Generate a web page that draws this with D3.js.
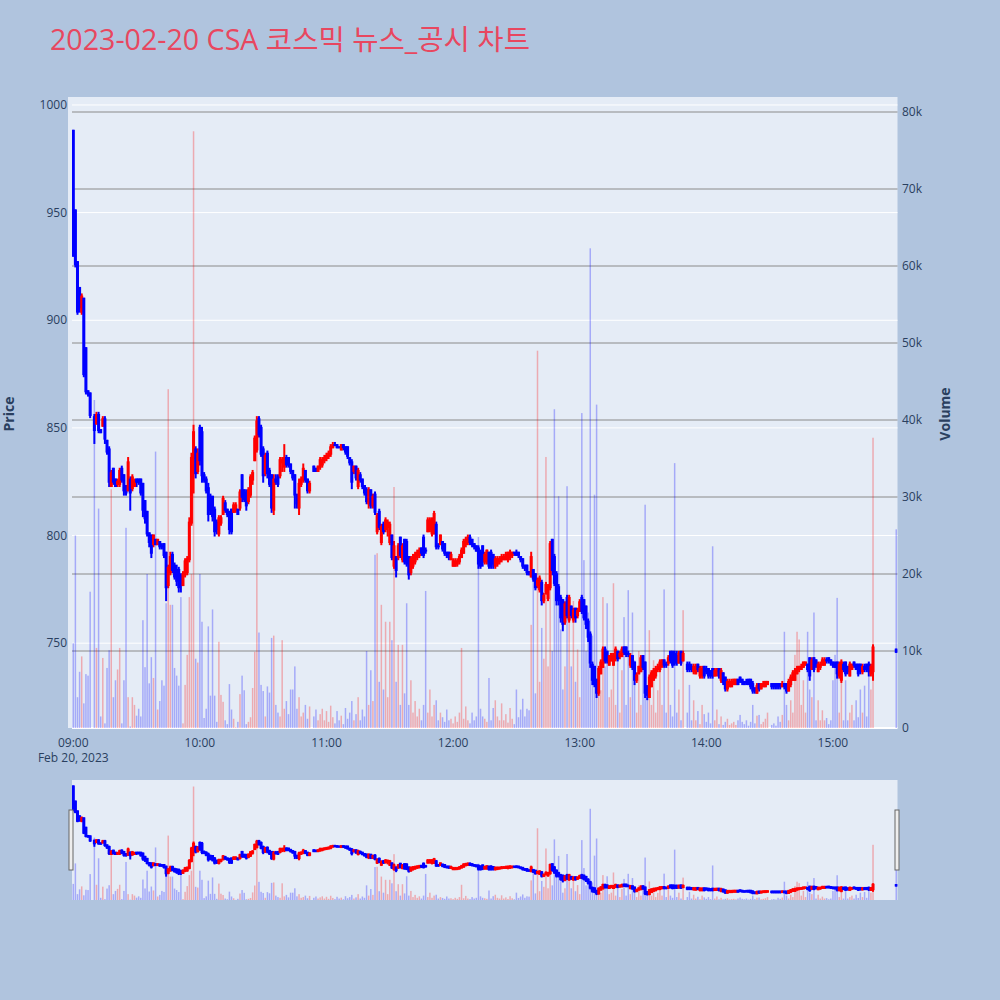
<!DOCTYPE html>
<html><head><meta charset="utf-8">
<script src="https://cdn.jsdelivr.net/npm/d3@7"></script>
<style>body{margin:0;background:#b0c4de;} svg{display:block;font-family:"Open Sans","Noto Sans CJK KR",sans-serif;}</style>
</head><body><svg id="c" width="1000" height="1000"></svg>
<script>
const chartTitle = "2023-02-20 CSA 코스믹 뉴스_공시 차트";
const priceTicks = [750, 800, 850, 900, 950, 1000];
const volTicks = [0, 10, 20, 30, 40, 50, 60, 70, 80];
const timeTicks = ["09:00","10:00","11:00","12:00","13:00","14:00","15:00"];
const dateLabel = "Feb 20, 2023";
const N = null;
// one entry per minute from 09:00 to 15:30
const openP = [
988,951,927,915,904,910,887,867,866,N,
855,852,856,849,851,854,844,840,823,831,
826,824,824,831,828,823,821,826,822,823,
826,826,826,824,816,811,801,800,796,798,
796,797,795,796,792,777,783,791,786,784,
784,781,777,782,783,789,806,836,840,830,
850,848,828,826,822,818,818,812,806,801,
806,810,815,812,811,812,811,812,812,813,
828,821,820,816,819,826,835,840,854,850,
840,829,838,830,828,812,826,827,828,834,
832,836,836,833,830,828,818,813,824,826,
830,826,821,N,832,831,830,832,833,835,
836,837,838,841,842,842,841,840,842,841,
841,836,834,830,832,823,828,826,823,821,
815,821,814,819,802,811,797,805,803,804,
797,800,786,790,790,799,789,798,797,790,
783,786,788,790,791,794,799,793,802,803,
801,801,805,795,796,797,796,792,792,789,
786,786,787,788,790,792,796,797,799,798,
796,795,794,792,795,788,788,792,792,791,
786,787,788,789,789,789,789,790,791,792,
792,792,790,789,786,786,783,781,784,782,
777,775,778,770,774,771,776,798,790,782,
776,771,770,760,771,761,767,761,766,763,
765,771,770,767,760,754,740,739,733,727,
736,739,747,746,740,742,740,743,746,744,
744,748,748,745,740,744,741,733,736,737,
744,741,730,725,730,733,735,738,738,740,
742,740,741,746,746,745,744,741,746,742,
N,740,740,739,737,736,740,735,735,739,
738,738,737,738,735,737,738,733,736,734,
729,730,730,731,731,733,734,733,732,732,
733,733,731,729,727,731,729,730,730,731,
N,731,731,731,731,731,730,731,731,728,
731,733,733,736,738,738,739,740,740,743,
738,743,742,737,739,740,740,742,743,742,
741,740,741,735,733,740,741,739,735,738,
741,740,740,740,737,739,740,740,736,737,
N,N,N,N,N,N,N,N,N,N,
747];
const highP = [
988,951,927,915,912,910,887,867,866,N,
856,857,857,849,855,855,844,841,830,831,
826,826,831,832,828,823,836,827,828,826,
826,826,826,824,816,811,801,800,800,798,
798,797,796,796,792,786,792,792,787,786,
785,782,783,789,790,808,838,851,841,840,
851,850,829,827,824,819,818,813,807,809,
809,818,816,812,811,812,815,815,812,821,
828,821,821,822,828,830,846,855,855,851,
841,838,839,831,828,828,828,828,836,836,
842,837,836,833,830,828,819,826,827,833,
830,826,825,N,832,831,832,836,836,837,
838,839,842,843,843,842,841,842,842,841,
841,836,835,832,832,831,829,826,823,822,
822,821,819,820,810,812,805,806,808,807,
806,800,797,790,796,799,796,798,798,790,
790,791,792,793,794,794,800,794,808,808,
808,811,806,796,800,797,796,792,792,792,
789,789,789,791,794,798,799,800,800,798,
796,795,795,793,795,792,793,792,793,791,
790,790,790,791,791,792,792,793,792,792,
793,792,790,789,786,786,783,792,784,782,
780,781,779,773,778,777,797,798,791,783,
777,772,770,769,772,772,767,766,766,766,
770,772,770,767,761,755,741,739,733,739,
742,748,748,746,744,745,745,748,746,746,
748,748,748,746,745,744,741,736,739,744,
744,741,730,735,737,738,739,740,742,742,
742,741,744,746,746,746,746,746,746,746,
N,741,741,740,740,740,740,739,739,739,
739,738,737,738,738,738,738,738,736,734,
733,733,733,733,733,733,734,733,732,733,
733,733,732,729,731,731,731,732,732,732,
N,731,731,731,731,731,732,731,731,733,
735,737,738,739,739,740,741,741,740,743,
743,743,742,741,741,743,743,743,743,742,
741,741,741,741,742,741,741,739,741,740,
741,740,740,740,740,740,740,741,740,749,
N,N,N,N,N,N,N,N,N,N,
747];
const lowP = [
930,925,903,904,903,874,866,865,855,N,
843,852,848,848,851,843,838,823,823,824,
823,823,823,825,819,819,821,812,821,823,
823,824,819,809,806,800,795,790,795,796,
796,794,794,790,770,776,782,783,780,777,
774,774,777,781,782,788,805,820,827,829,
833,825,825,820,807,810,807,800,801,800,
805,810,811,809,801,801,811,811,810,812,
816,816,812,815,818,824,835,839,846,837,
825,828,827,823,811,810,824,823,827,830,
830,832,832,829,826,813,813,810,823,825,
825,820,820,N,830,830,830,831,832,834,
835,836,837,841,842,841,841,840,840,838,
836,833,822,829,826,822,825,822,819,815,
813,813,813,810,801,803,796,801,802,800,
796,789,785,781,789,790,788,787,786,780,
782,785,787,789,790,791,790,792,802,802,
800,801,794,794,796,793,791,790,789,789,
786,786,786,787,790,792,795,796,796,795,
794,793,785,785,786,787,787,785,785,785,
785,786,787,788,789,789,788,789,790,791,
791,790,788,785,784,782,782,781,779,775,
776,774,768,769,773,770,775,782,777,768,
768,760,756,759,762,760,762,760,760,762,
765,764,761,757,751,739,731,730,725,726,
736,739,741,741,740,742,740,742,742,743,
744,745,744,744,739,738,731,732,736,737,
738,725,724,725,730,733,734,737,737,739,
739,739,740,741,739,740,740,741,740,742,
N,737,737,737,736,736,737,734,734,734,
736,734,734,734,735,735,734,732,731,728,
728,730,730,731,731,731,732,731,731,731,
731,729,727,727,727,728,729,730,730,731,
N,729,729,729,729,729,730,729,727,728,
730,733,733,736,737,738,739,740,737,733,
738,737,739,737,738,740,740,741,741,740,
739,739,734,734,732,737,735,736,735,738,
739,738,735,736,736,737,737,735,735,733,
N,N,N,N,N,N,N,N,N,N,
746];
const closeP = [
930,926,904,906,911,875,867,866,856,N,
849,856,849,848,854,845,839,825,829,825,
823,825,830,826,821,820,834,820,827,825,
825,825,820,812,808,801,797,792,800,796,
798,795,795,791,776,785,790,784,781,779,
776,777,782,788,789,806,836,848,829,838,
835,828,826,821,810,812,809,802,803,808,
808,817,812,810,803,802,814,814,810,820,
818,817,814,821,827,829,845,853,847,838,
828,837,829,824,813,826,825,824,835,835,
836,833,833,830,827,819,815,824,826,831,
826,821,824,N,830,830,832,835,835,836,
837,838,841,842,842,841,841,842,841,839,
837,834,825,832,827,830,826,823,820,816,
821,814,818,811,809,804,804,802,807,806,
805,790,795,784,795,791,795,788,787,782,
789,790,791,792,793,792,791,793,807,807,
807,810,795,795,800,794,792,791,790,791,
788,788,788,790,793,797,798,799,797,796,
795,793,787,786,788,791,793,786,786,787,
789,789,789,790,790,791,792,792,792,792,
791,791,789,786,785,783,782,790,780,776,
779,780,770,772,777,776,796,784,778,770,
770,762,759,768,763,771,763,765,762,765,
769,765,762,759,753,741,733,731,727,738,
741,747,742,742,744,745,744,747,743,745,
747,746,745,745,744,739,733,735,739,743,
739,727,726,734,736,737,738,739,741,742,
740,740,743,742,740,741,741,745,741,745,
N,738,738,738,739,739,738,738,738,735,
737,735,735,735,737,738,735,737,732,729,
732,732,732,733,733,731,733,732,731,732,
731,730,728,728,730,729,731,731,732,732,
N,730,730,730,730,730,731,730,728,732,
734,736,737,738,739,739,741,741,738,735,
742,738,740,740,740,742,742,742,742,741,
740,739,736,740,741,738,736,737,740,740,
740,738,736,737,739,738,738,737,739,748,
N,N,N,N,N,N,N,N,N,N,
746];
// volume in thousands of shares
const volumeK = [
11,25,4,7.3,9.3,3.2,7,6.8,17.7,0,
42.6,10.4,28.5,1.5,9.1,0.6,7.8,10.1,31,4,
6.2,7.6,10.4,0.6,6.2,26,4,0.2,4,3,
1.6,2.5,1.5,14,7.9,20,5.8,9.2,6.5,35.9,
2.4,3.5,6.2,5.5,16.2,44,16,16,7.8,6.8,
5.5,17,0.6,5.6,9.5,17,20,77.5,9,8.5,
20,13.8,1.3,2.5,13.2,4.2,15.4,4.2,0.8,11.2,
4.3,3.4,1,0.5,5.7,2.4,1.2,0.1,0.8,4.4,
6.8,4.9,0.5,0.8,1.4,5.2,9.9,40,12.4,5.6,
4.8,1.5,5.4,4.6,11.7,12,3,2,1.5,11.4,
2.5,3.5,1.8,5,5,8,2.5,4,1.5,2,
3,1.2,2.8,0,1.5,2.4,1,1.8,2.5,1,
2.2,0.8,2.9,1.4,0.6,2.2,1,1.6,0.5,2.6,
1.2,2,3.5,1,1.8,4,1,2.4,1.5,10,
3,7.5,3.5,22.5,22.7,6,16,5,13.8,4,
13.8,11.4,31.3,6,10.8,3,10.8,4.5,16.2,3,
6.2,2,3.5,1.5,2.5,1,3,17.8,2,5,
1.5,3,3.6,1,2,1.4,0.8,2.4,1,1.2,
0.6,1.5,0.8,2,10.4,1.2,2.8,1,0.6,2,
1,1.5,24.8,2.5,1.5,1.2,0.8,6.5,1,2.6,
3.6,1.5,1,3.2,1,1.8,0.7,2.6,1.2,0.5,
5,1.4,2.4,3.8,1.5,2.5,2.3,13.4,20.5,4.5,
49,6,13,9,35.2,8,23.8,10,41.4,16,
30.1,12.8,5,8,31.4,16.5,8,16.5,6,10.2,
4,40.9,21.8,10,15,62.3,12,30.3,42,5,
4.9,17,8,16.2,4,5,18.8,3,10.2,2,
7.5,14.4,3,17.9,4,15,8.8,2,10,3,
8,29,4,12.7,3,8.8,2,4.9,8,3,
18,2,8.8,3,1.5,34.4,2,5,1,15.3,
0,2,5.6,1,3.6,1,2.2,0.5,3,1.8,
0.8,2,0.6,23.6,1,2.4,0.5,1.5,0.4,0.8,
1.2,0.4,0.6,0.8,0.4,1,1.7,0.8,0.5,1,
0.3,0.8,3,0.6,1.6,1.7,0.5,0.8,1.2,2,
0,0.4,0.6,0.3,1.5,0.8,1.7,12.5,3,1,
3.6,2,9.5,12.5,11.5,3,6.2,2,12.5,5,
4,15,1,3.6,1,2.3,1,1.3,0.5,1,
6.2,9.5,16.9,2,8.8,1,6.2,1,2,3,
1,3.6,1.4,5,2,5.5,1.5,6.8,5,37.7,
0,0,0,0,0,0,0,0,0,0,
25.8];

const data = openP.map((o, i) => ({
  t: new Date(2023, 1, 20, 9, i),
  o, h: highP[i], l: lowP[i], c: closeP[i], v: volumeK[i]
}));

const UP = "#ff0000", DOWN = "#0000ff", TXT = "#2a3f5f";
const svg = d3.select("#c");
svg.append("rect").attr("width", 1000).attr("height", 1000).attr("fill", "#b0c4de");

const L = 72, R = 897.5, T = 97, B = 728;
const x = d3.scaleTime()
  .domain([new Date(2023,1,20,8,59,24), new Date(2023,1,20,15,30,36)])
  .range([L, R]);
const yP = d3.scaleLinear().domain([710.6, 1003.7]).range([B, T]);
const yV = d3.scaleLinear().domain([0, 81.95]).range([B, T]);

// title
svg.append("text").attr("x", 50).attr("y", 50).attr("fill", "#e8475f")
  .attr("font-size", 28.6).text(chartTitle);

// plot bg
svg.append("rect").attr("x", 68).attr("y", T).attr("width", R - 68).attr("height", B - T).attr("fill", "#e5ecf6");

const defs = svg.append("defs");
defs.append("clipPath").attr("id", "clipMain").append("rect").attr("x", L).attr("y", T).attr("width", R - L).attr("height", B - T);

// price gridlines (white)
svg.append("g").selectAll("line").data(priceTicks).join("line")
  .attr("x1", L).attr("x2", R).attr("y1", d => yP(d)).attr("y2", d => yP(d))
  .attr("stroke", "#fff").attr("stroke-width", 1);
// volume gridlines (grey)
svg.append("g").selectAll("line").data(volTicks.filter(d => d > 0)).join("line")
  .attr("x1", L).attr("x2", R).attr("y1", d => yV(d)).attr("y2", d => yV(d))
  .attr("stroke", "#8a8a8a").attr("stroke-width", 1);
// zero line
svg.append("line").attr("x1", L).attr("x2", R).attr("y1", yV(0)).attr("y2", yV(0))
  .attr("stroke", "#fff").attr("stroke-width", 2);

function drawCandles(g, ys, bodyW, wickW) {
  const cd = data.filter(d => d.o != null);
  g.selectAll("rect.wick").data(cd).join("rect").attr("class", "wick")
    .attr("x", d => x(d.t) - wickW / 2).attr("width", wickW)
    .attr("y", d => ys(d.h) - 1).attr("height", d => Math.max(2, ys(d.l) - ys(d.h) + 2))
    .attr("fill", d => d.c > d.o ? UP : DOWN);
  g.selectAll("rect.body").data(cd).join("rect").attr("class", "body")
    .attr("x", d => x(d.t) - bodyW / 2).attr("width", bodyW)
    .attr("y", d => ys(Math.max(d.o, d.c)) - 1)
    .attr("height", d => Math.max(2, Math.abs(ys(d.o) - ys(d.c)) + 2))
    .attr("fill", d => d.c > d.o ? UP : DOWN);
}
function drawVolume(g, ys, w) {
  const vd = data.filter(d => d.v > 0);
  g.selectAll("rect.vol").data(vd).join("rect").attr("class", "vol")
    .attr("x", d => x(d.t) - w / 2).attr("width", w)
    .attr("y", d => ys(d.v)).attr("height", d => ys(0) - ys(d.v))
    .attr("fill", d => (d.o != null && d.c > d.o) ? UP : DOWN)
    .attr("fill-opacity", 0.28);
}

const gMain = svg.append("g").attr("clip-path", "url(#clipMain)");
drawCandles(gMain.append("g"), yP, 3, 2);
drawVolume(gMain.append("g"), yV, 1.5);

// axes
const gAx = svg.append("g").attr("font-size", 12).attr("fill", TXT);
gAx.selectAll("text.yl").data(priceTicks).join("text").attr("class", "yl")
  .attr("x", 67).attr("y", d => yP(d) + 4).attr("text-anchor", "end").text(d => d);
gAx.selectAll("text.yr").data(volTicks).join("text").attr("class", "yr")
  .attr("x", 902).attr("y", d => yV(d) + 4).attr("text-anchor", "start").text(d => d === 0 ? "0" : d + "k");
gAx.selectAll("text.xl").data(timeTicks).join("text").attr("class", "xl")
  .attr("x", (d, i) => x(new Date(2023, 1, 20, 9 + i, 0))).attr("y", 747).attr("text-anchor", "middle").text(d => d);
gAx.append("text").attr("x", x(new Date(2023,1,20,9,0))).attr("y", 762).attr("text-anchor", "middle").text(dateLabel);

svg.append("text").attr("transform", "translate(14,414) rotate(-90)").attr("text-anchor", "middle")
  .attr("font-size", 14).attr("font-weight", "bold").attr("fill", TXT).text("Price");
svg.append("text").attr("transform", "translate(950,414) rotate(-90)").attr("text-anchor", "middle")
  .attr("font-size", 14).attr("font-weight", "bold").attr("fill", TXT).text("Volume");

// range slider
const ST = 780, SB = 900;
const yPs = d3.scaleLinear().domain([710.6, 1003.7]).range([SB, ST]);
const yVs = d3.scaleLinear().domain([0, 81.95]).range([SB, ST]);
defs.append("clipPath").attr("id", "clipSlider").append("rect").attr("x", L).attr("y", ST).attr("width", R - L).attr("height", SB - ST);
svg.append("rect").attr("x", L).attr("y", ST).attr("width", R - L).attr("height", SB - ST).attr("fill", "#e5ecf6");
const gS = svg.append("g").attr("clip-path", "url(#clipSlider)");
drawCandles(gS.append("g"), yPs, 3, 2);
drawVolume(gS.append("g"), yVs, 1.5);
[L - 1, R - 0.5].forEach(px => {
  svg.append("rect").attr("x", px - 2).attr("y", 810).attr("width", 4).attr("height", 60)
    .attr("fill", "#eee").attr("stroke", "#666").attr("stroke-width", 1);
});
</script></body></html>
